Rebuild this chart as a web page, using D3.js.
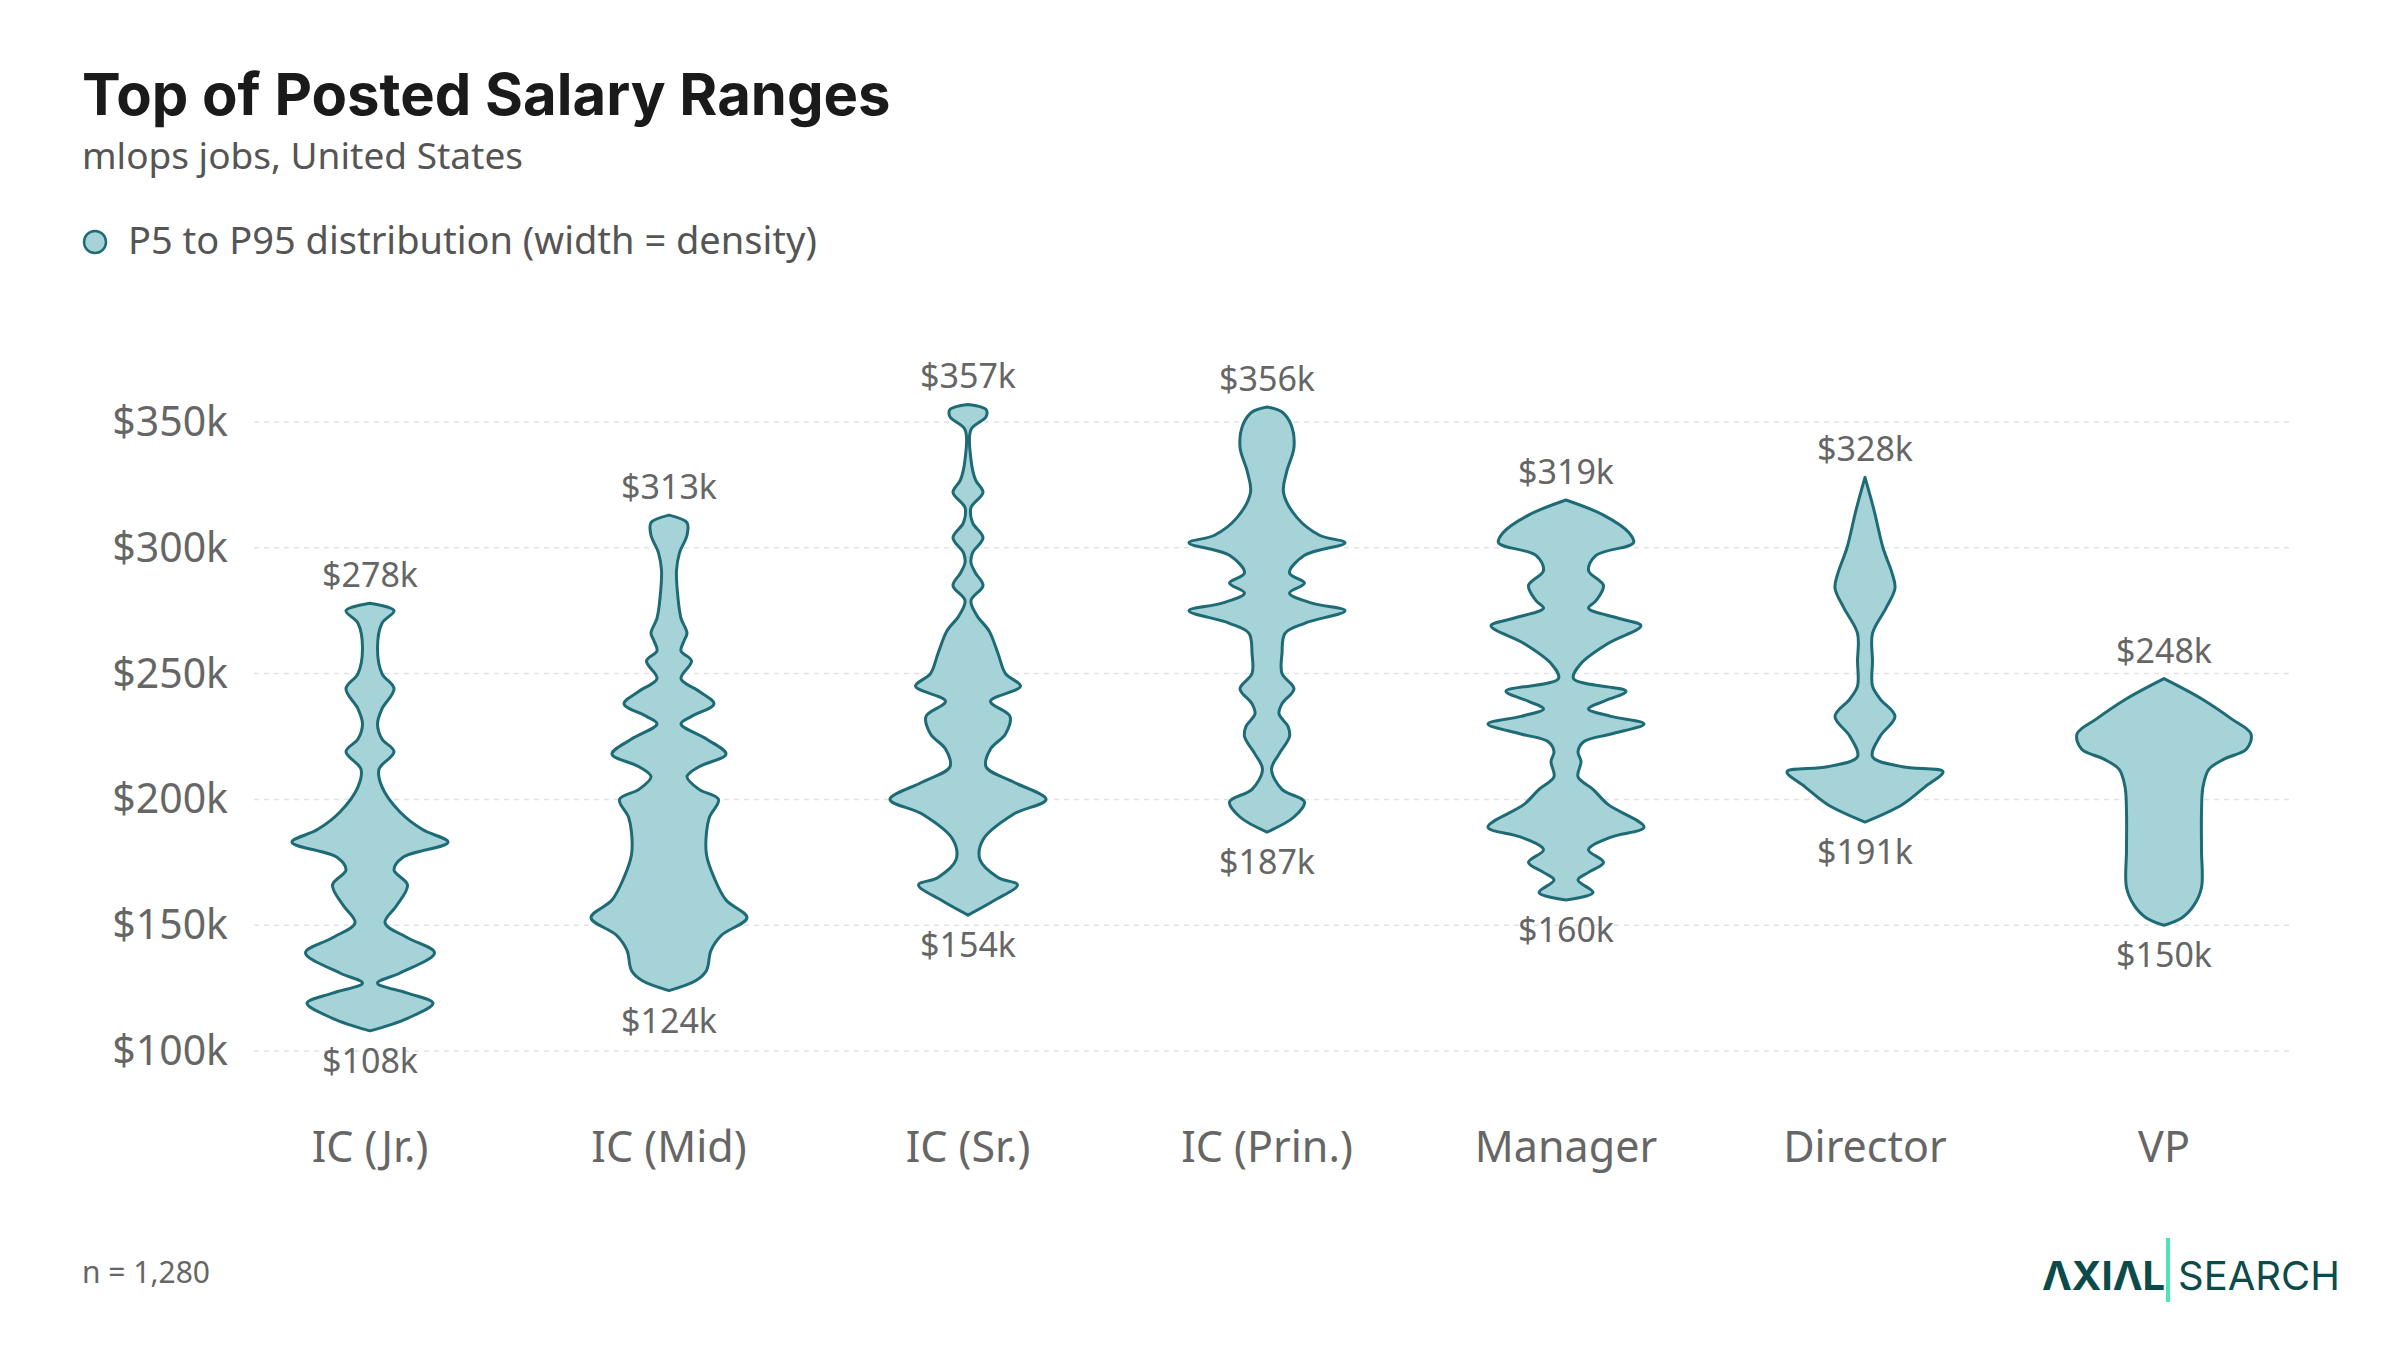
<!DOCTYPE html>
<html>
<head>
<meta charset="utf-8">
<script src="https://d3js.org/d3.v7.min.js"></script>
<style>
  body { margin: 0; background: #fff; }
  text { font-family: "Noto Sans", Roboto, sans-serif; }
</style>
</head>
<body>
<svg width="2400" height="1350"></svg>
<script>
// categories and P5/P95 labels
var categories = ["IC (Jr.)", "IC (Mid)", "IC (Sr.)", "IC (Prin.)", "Manager", "Director", "VP"];
var lows  = [108, 124, 154, 187, 160, 191, 150];
var highs = [278, 313, 357, 356, 319, 328, 248];
var yTicks = [100, 150, 200, 250, 300, 350];

// density profiles: [salary $k, relative half-width]
var jr = [[278,0],[275,16],[270,8],[260,5],[250,8],[244,16],[236,8],[230,5],[224,8],[219,16],[212,6],[205,8],[195,20],[188,35],[183,52],[177,22],[172,16],[166,25],[158,18],[151,10],[145,25],[139,43],[131,20],[127,5],[123,25],[119,42],[113,25],[108,0]];
var mid = [[313,0],[310,12],[305,12],[298,7],[291,5],[280,6],[272,8],[266,12],[263,10],[259,8],[255,15],[248,8],[243,20],[238,30],[233,15],[230,8],[224,25],[218,38],[213,20],[209,12],[204,20],[200,33],[193,27],[187,25],[178,25],[169,30],[160,38],[153,52],[146,35],[140,28],[132,25],[128,18],[124,0]];
var sr = [[357,0],[355,12],[352,12],[347,2],[335,2],[327,5],[322,10],[316,2],[310,3],[304,10],[298,3],[294,2],[290,5],[285,10],[279,2],[273,6],[267,14],[258,20],[250,25],[245,35],[239,15],[233,28],[226,25],[220,15],[213,12],[207,30],[200,52],[194,30],[184,10],[176,8],[169,20],[166,33],[160,18],[154,0]];
var prin = [[356,0],[354,10],[349,16],[340,18],[330,13],[322,11],[312,20],[305,35],[302,52],[297,25],[290,15],[286,25],[282,15],[278,30],[275,52],[270,25],[266,12],[258,10],[250,10],[244,18],[238,10],[234,8],[229,14],[225,15],[218,8],[212,3],[204,10],[199,25],[193,18],[187,0]];
var mgr = [[319,0],[313,25],[306,42],[302,45],[297,20],[291,15],[285,25],[279,20],[276,15],[272,35],[269,50],[262,28],[254,10],[248,5],[243,40],[239,25],[236,15],[233,30],[230,52],[226,30],[223,12],[219,8],[215,10],[209,8],[204,18],[198,28],[189,52],[185,30],[180,15],[175,25],[171,15],[168,8],[163,18],[160,0]];
var dir = [[328,0],[315,6],[300,12],[290,18],[284,20],[276,14],[266,5],[255,5],[245,5],[240,10],[233,20],[225,10],[217,5],[213,25],[211,52],[205,40],[198,25],[191,0]];
var vp = [[248,0],[240,25],[232,45],[226,58],[220,55],[216,40],[212,30],[205,26],[195,25],[180,25],[165,25],[158,20],[153,12],[150,0]];
var profiles = [jr, mid, sr, prin, mgr, dir, vp];

var svg = d3.select("svg");

var x = d3.scalePoint().domain(categories).range([370, 2164]);
var y = d3.scaleLinear().domain([100, 350]).range([1051, 422]);
var w = d3.scaleLinear().domain([0, 58]).range([0, 87]);

// title block
svg.append("text").attr("x", 82).attr("y", 115).text("Top of Posted Salary Ranges")
  .style("font-family", "Inter, sans-serif").style("font-weight", 700).style("font-size", "58px").attr("fill", "#1a1a1a");
svg.append("text").attr("x", 82).attr("y", 169).text("mlops jobs, United States")
  .style("font-size", "37px").attr("fill", "#555");
svg.append("circle").attr("cx", 95).attr("cy", 242).attr("r", 11)
  .attr("fill", "#a5d3d8").attr("stroke", "#1e6b75").attr("stroke-width", 2.5);
svg.append("text").attr("x", 128).attr("y", 254).text("P5 to P95 distribution (width = density)")
  .style("font-size", "38px").attr("fill", "#555");

// grid + y labels
svg.selectAll(".grid").data(yTicks).enter().append("line")
  .attr("x1", 254).attr("x2", 2294)
  .attr("y1", d => y(d)).attr("y2", d => y(d))
  .attr("stroke", "#e2e2e2").attr("stroke-width", 1.5).attr("stroke-dasharray", "5,5");
svg.selectAll(".ylab").data(yTicks).enter().append("text")
  .attr("x", 228).attr("y", d => y(d) + 14).attr("text-anchor", "end")
  .text(d => "$" + d + "k").style("font-size", "41px").attr("fill", "#666");

// violins
var area = d3.area()
  .y(d => y(d[0]))
  .x0(d => -w(d[1]))
  .x1(d => w(d[1]))
  .curve(d3.curveCatmullRom);

categories.forEach(function(c, i) {
  var g = svg.append("g").attr("transform", "translate(" + x(c) + ",0)");
  g.append("path").attr("d", area(profiles[i]))
    .attr("fill", "#a5d3d8").attr("stroke", "#1e6b75").attr("stroke-width", 3).attr("stroke-linejoin", "round");
  g.append("text").attr("y", y(highs[i]) - 16).attr("text-anchor", "middle")
    .text("$" + highs[i] + "k").style("font-size", "34px").attr("fill", "#666");
  g.append("text").attr("y", y(lows[i]) + 42).attr("text-anchor", "middle")
    .text("$" + lows[i] + "k").style("font-size", "34px").attr("fill", "#666");
  g.append("text").attr("y", 1162).attr("text-anchor", "middle")
    .text(c).style("font-size", "43px").attr("fill", "#666");
});

// footer
svg.append("text").attr("x", 82).attr("y", 1283).text("n = 1,280")
  .style("font-size", "30px").attr("fill", "#666");
svg.append("text").attr("x", 2042).attr("y", 1290).text("ΛXIΛL")
  .style("font-family", "Inter, sans-serif").style("font-weight", 700).style("font-size", "40px").attr("fill", "#0d4a4a");
svg.append("rect").attr("x", 2166).attr("y", 1238).attr("width", 4).attr("height", 64).attr("fill", "#4fe3b8");
svg.append("text").attr("x", 2178).attr("y", 1290).text("SEARCH")
  .style("font-family", "Inter, sans-serif").style("font-size", "40px").attr("fill", "#0d4a4a");
</script>
</body>
</html>
